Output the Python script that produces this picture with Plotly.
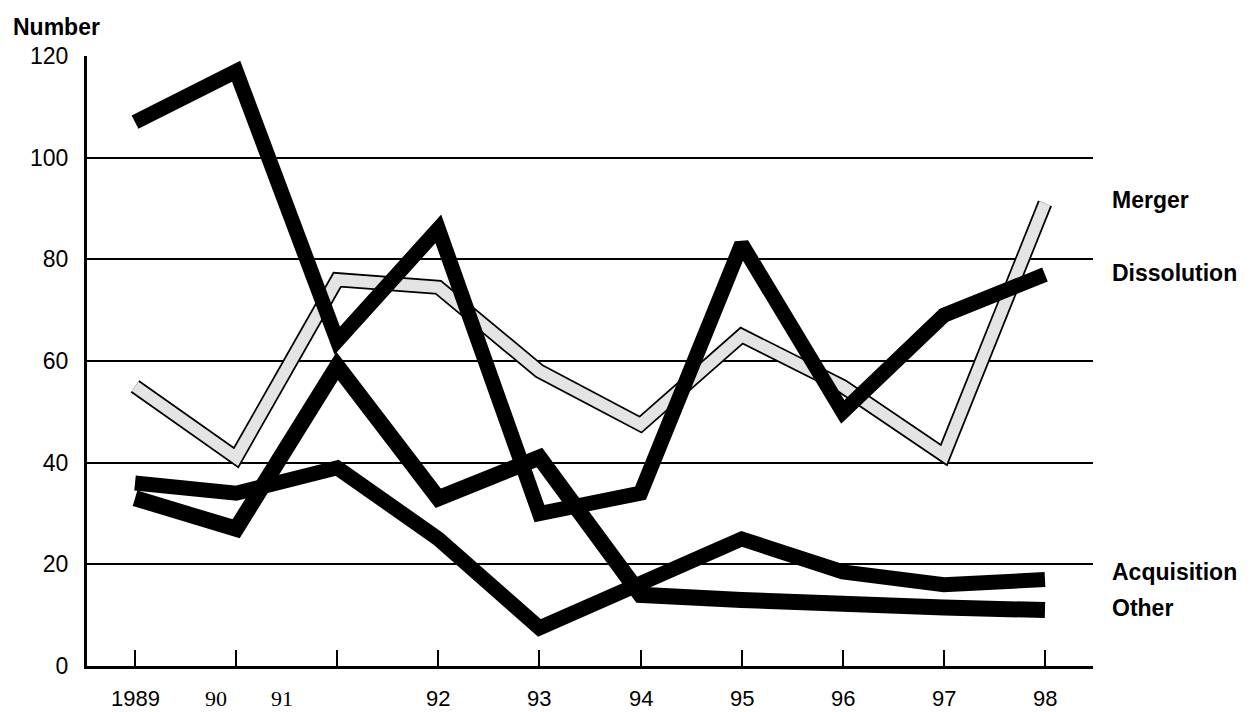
import plotly.graph_objects as go

# categories and tick labels
years = list(range(10))
year_labels = ["1989", "90", "91", "92", "93", "94", "95", "96", "97", "98"]

# series values
merger = [55, 41, 76, 74.5, 58, 47.5, 65, 55, 41.5, 91]
dissolution = [107, 117, 64, 86, 30, 34, 83, 50, 69, 77]
acquisition = [36, 34, 39, 25, 7.5, 16.5, 25, 18.5, 16, 17]
other = [33, 27, 59, 33, 41, 14, 13, 12, 11.5, 11]

y_ticks = [0, 20, 40, 60, 80, 100, 120]

# where the year labels sit under the axis (the scan has 90/91 shifted left)
label_pos = [0, 0.8, 1.45, 3, 4, 5, 6, 7, 8, 9]
label_fonts = ["Liberation Sans"] * 10
label_fonts[1] = "Liberation Serif"
label_fonts[2] = "Liberation Serif"

# end labels on the right: (text, y value)
series_labels = [("Merger", 91.6), ("Dissolution", 77.3), ("Acquisition", 18.5), ("Other", 11.4)]

FONT = "Liberation Sans, Arial, sans-serif"

fig = go.Figure()

# merger is drawn as an outlined light grey band
fig.add_trace(go.Scatter(x=years, y=merger, mode="lines",
                         line=dict(color="black", width=15), hoverinfo="skip"))
fig.add_trace(go.Scatter(x=years, y=merger, mode="lines",
                         line=dict(color="#e4e4e4", width=11.5), name="Merger"))

for name, vals, w in [("Dissolution", dissolution, 15),
                      ("Acquisition", acquisition, 15),
                      ("Other", other, 16)]:
    fig.add_trace(go.Scatter(x=years, y=vals, mode="lines", name=name,
                             line=dict(color="black", width=w)))

annotations = []
for pos, txt, fnt in zip(label_pos, year_labels, label_fonts):
    annotations.append(dict(
        x=pos, y=0, xref="x", yref="paper", text=txt, showarrow=False,
        xanchor="center", yanchor="middle", yshift=-32,
        font=dict(family=fnt, size=22, color="black"),
    ))

for txt, yv in series_labels:
    annotations.append(dict(
        x=1, y=yv, xref="paper", yref="y", text=f"<b>{txt}</b>", showarrow=False,
        xanchor="left", yanchor="middle", xshift=17,
        font=dict(family=FONT, size=23, color="black"),
    ))

annotations.append(dict(
    x=0, y=1, xref="paper", yref="paper", text="<b>Number</b>", showarrow=False,
    xanchor="left", yanchor="middle", xshift=-76, yshift=29,
    font=dict(family=FONT, size=23, color="black"),
))

# the page adds an 8px body margin, so the figure is a little smaller
fig.update_layout(
    width=1243,
    height=704,
    margin=dict(l=79, r=158, t=48, b=46),
    plot_bgcolor="white",
    paper_bgcolor="white",
    showlegend=False,
    font=dict(family=FONT, size=23, color="black"),
    annotations=annotations,
)

fig.update_xaxes(
    range=[-0.475, 9.475],
    tickvals=years,
    showticklabels=False,
    ticks="inside",
    ticklen=16,
    tickwidth=2,
    tickcolor="black",
    showgrid=False,
    zeroline=False,
    showline=True,
    linecolor="black",
    linewidth=3,
)
fig.update_yaxes(
    range=[0, 120],
    tickvals=y_ticks,
    ticks="",
    ticklabelstandoff=11,
    showgrid=True,
    gridcolor="black",
    gridwidth=2,
    zeroline=False,
    showline=True,
    linecolor="black",
    linewidth=3,
    tickfont=dict(family=FONT, size=23, color="black"),
)

fig.write_html("out.html")
